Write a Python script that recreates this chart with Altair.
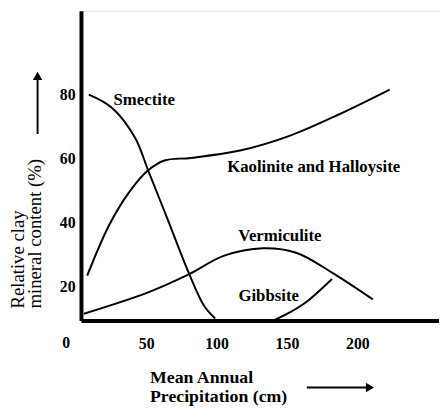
import altair as alt
import pandas as pd

# ---- data ----
smectite_x = [9.3, 25.6, 42, 51.4, 65.4, 80.6, 91, 99]
smectite_y = [80, 75.9, 66.6, 56.3, 40.8, 23.8, 14, 9.9]
kaolinite_x = [8.1, 23.3, 37.3, 51.4, 63, 81.7, 116.7, 151.8, 186.8, 223]
kaolinite_y = [23.3, 38.8, 49.1, 56.3, 59.4, 60.2, 62.5, 67.1, 73.8, 81.6]
vermiculite_x = [5.8, 51.4, 80.6, 105, 133, 156.5, 182, 211]
vermiculite_y = [11.4, 18.1, 23.8, 29.5, 31.9, 30.5, 24.3, 15.9]
gibbsite_x = [141, 152, 163.5, 182]
gibbsite_y = [9.4, 11.8, 15, 22.3]

label_text = ["Smectite", "Kaolinite and Halloysite", "Vermiculite", "Gibbsite"]
label_x = [48.6, 169, 145, 137]
label_y = [78.3, 57.2, 35.6, 17]

x_ticks = [50, 100, 150, 200]
y_ticks = [20, 40, 60, 80]

rows = []
for name, xs_, ys_ in [("Smectite", smectite_x, smectite_y),
                       ("Kaolinite", kaolinite_x, kaolinite_y),
                       ("Vermiculite", vermiculite_x, vermiculite_y),
                       ("Gibbsite", gibbsite_x, gibbsite_y)]:
    for i, (a, b) in enumerate(zip(xs_, ys_)):
        rows.append({"series": name, "order": i, "x": a, "y": b})
df = pd.DataFrame(rows)
labels = pd.DataFrame({"text": label_text, "x": label_x, "y": label_y})

SERIF = "Liberation Serif"
xs = alt.Scale(domain=[3.7, 258], nice=False, zero=False)
ys = alt.Scale(domain=[9.3, 106.3], nice=False, zero=False)

lines = alt.Chart(df).mark_line(color="black", strokeWidth=2, interpolate="catmull-rom").encode(
    x=alt.X("x:Q", scale=xs, axis=alt.Axis(values=x_ticks, title=None, grid=False, ticks=False,
                                           domainColor="black", domainWidth=4, labelFont=SERIF,
                                           labelFontSize=16, labelColor="black", labelPadding=15,
                                           labelFontWeight="bold")),
    y=alt.Y("y:Q", scale=ys, axis=alt.Axis(values=y_ticks, title=None, grid=False, ticks=False,
                                           domainColor="black", domainWidth=4, labelFont=SERIF,
                                           labelFontSize=16, labelColor="black", labelPadding=6,
                                           labelFontWeight="bold")),
    detail="series:N",
    order="order:Q",
)

curve_labels = alt.Chart(labels).mark_text(font=SERIF, fontSize=17, fontWeight="bold",
                                           color="black").encode(
    x=alt.X("x:Q", scale=xs), y=alt.Y("y:Q", scale=ys), text="text:N")

ytitle1 = alt.Chart(pd.DataFrame({"t": ["Relative clay"]})).mark_text(
    font=SERIF, fontSize=19, angle=270, align="left", baseline="middle", color="black").encode(
    x=alt.value(-64), y=alt.value(302), text="t:N")
ytitle2 = alt.Chart(pd.DataFrame({"t": ["mineral content (%)"]})).mark_text(
    font=SERIF, fontSize=19, angle=270, align="left", baseline="middle", color="black").encode(
    x=alt.value(-47), y=alt.value(302), text="t:N")
xtitle1 = alt.Chart(pd.DataFrame({"t": ["Mean Annual"]})).mark_text(
    font=SERIF, fontSize=18, fontWeight="bold", align="left", baseline="middle", color="black").encode(
    x=alt.value(70), y=alt.value(372), text="t:N")
xtitle2 = alt.Chart(pd.DataFrame({"t": ["Precipitation (cm)"]})).mark_text(
    font=SERIF, fontSize=18, fontWeight="bold", align="left", baseline="middle", color="black").encode(
    x=alt.value(70), y=alt.value(392), text="t:N")
zero = alt.Chart(pd.DataFrame({"t": ["0"]})).mark_text(
    font=SERIF, fontSize=16, fontWeight="bold", baseline="middle", color="black").encode(
    x=alt.value(-15), y=alt.value(337), text="t:N")

yarrow = alt.Chart(pd.DataFrame({"a": [0]})).mark_rule(color="black", strokeWidth=2).encode(
    x=alt.value(-44), y=alt.value(125), y2=alt.value(70))
yhead = alt.Chart(pd.DataFrame({"a": [0]})).mark_point(shape="triangle-up", filled=True,
                                                       color="black", size=90, opacity=1).encode(
    x=alt.value(-44), y=alt.value(66))
xarrow = alt.Chart(pd.DataFrame({"a": [0]})).mark_rule(color="black", strokeWidth=2).encode(
    x=alt.value(229), x2=alt.value(291), y=alt.value(382))
xhead = alt.Chart(pd.DataFrame({"a": [0]})).mark_point(shape="triangle-right", filled=True,
                                                       color="black", size=90, opacity=1).encode(
    x=alt.value(293), y=alt.value(382))

chart = alt.layer(lines, curve_labels, ytitle1, ytitle2, xtitle1, xtitle2, zero,
                  yarrow, yhead, xarrow, xhead).properties(
    width=363, height=314,
    autosize=alt.AutoSizeParams(type="none"),
    padding={"left": 74, "top": 0, "right": 0, "bottom": 84},
).configure_view(stroke=None).configure(background="white")

chart.save("out.html", embed_options={"renderer": "svg", "actions": False})
